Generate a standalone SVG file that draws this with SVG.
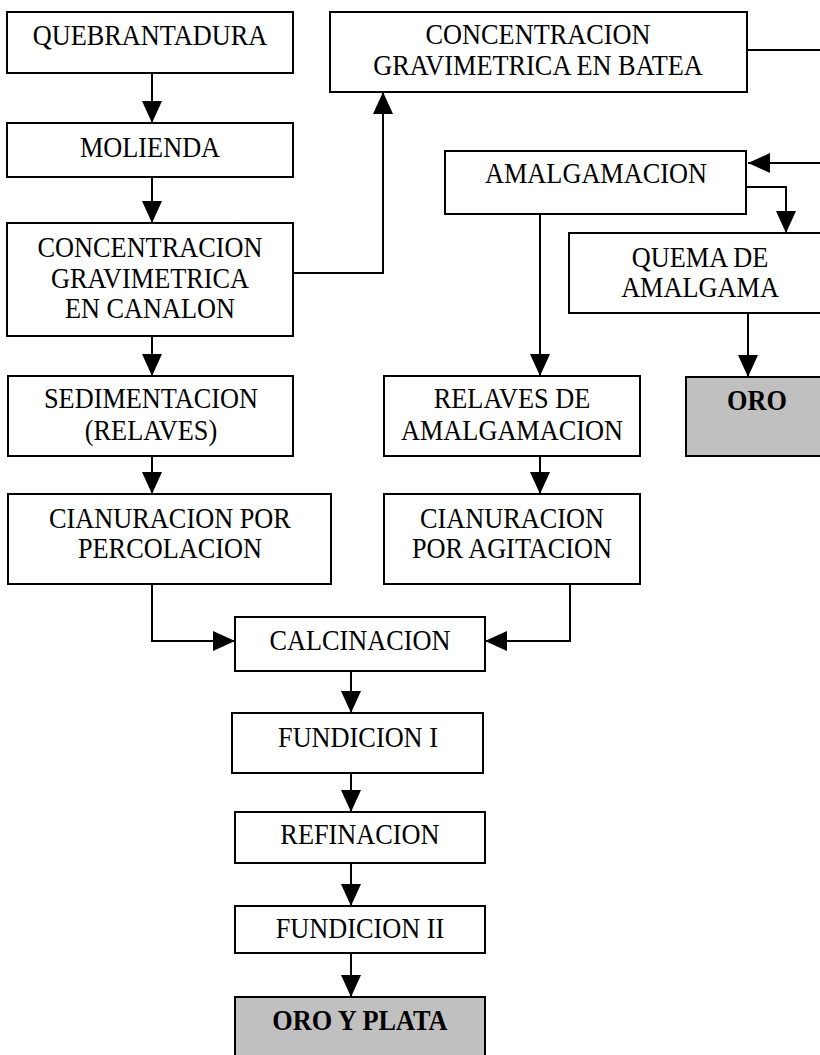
<svg xmlns="http://www.w3.org/2000/svg" width="820" height="1055" viewBox="0 0 820 1055">
<style>
.box{fill:#fff;stroke:#000;stroke-width:2}
.gray{fill:#c0c0c0;stroke:#000;stroke-width:2}
.t{font-family:"Liberation Serif","Times New Roman",serif;font-size:29px;text-anchor:middle;fill:#000}
.b{font-weight:bold}
.c{fill:none;stroke:#000;stroke-width:2}
</style>
<defs>
<marker id="ah" markerUnits="userSpaceOnUse" markerWidth="22" markerHeight="20" refX="22" refY="10" orient="auto">
<path d="M0,0 L22,10 L0,20 Z" fill="#000"/>
</marker>
</defs>
<rect width="820" height="1055" fill="#fff"/>
<g id="connectors">
<path class="c" d="M152,73 V123" marker-end="url(#ah)"/>
<path class="c" d="M152,177 V223" marker-end="url(#ah)"/>
<path class="c" d="M152,336 V376" marker-end="url(#ah)"/>
<path class="c" d="M152,456 V494" marker-end="url(#ah)"/>
<path class="c" d="M293,273 H383 V92" marker-end="url(#ah)"/>
<path class="c" d="M747,50 H830"/>
<path class="c" d="M830,163 H748" marker-end="url(#ah)"/>
<path class="c" d="M746,187 H786 V233" marker-end="url(#ah)"/>
<path class="c" d="M540,214 V376" marker-end="url(#ah)"/>
<path class="c" d="M748,313 V377" marker-end="url(#ah)"/>
<path class="c" d="M540,456 V494" marker-end="url(#ah)"/>
<path class="c" d="M152,584 V641 H235" marker-end="url(#ah)"/>
<path class="c" d="M570,584 V641 H485" marker-end="url(#ah)"/>
<path class="c" d="M351,671 V713" marker-end="url(#ah)"/>
<path class="c" d="M351,773 V812" marker-end="url(#ah)"/>
<path class="c" d="M351,863 V906" marker-end="url(#ah)"/>
<path class="c" d="M351,953 V997" marker-end="url(#ah)"/>
</g>
<g id="quebrantadura"><rect class="box" x="7" y="12" width="286" height="61"/><text class="t" transform="scale(0.907,1)" x="165.4" y="45">QUEBRANTADURA</text></g>
<g id="molienda"><rect class="box" x="7" y="123" width="286" height="54"/><text class="t" transform="scale(0.907,1)" x="165.4" y="157">MOLIENDA</text></g>
<g id="canalon"><rect class="box" x="7" y="223" width="286" height="113"/><g class="t" transform="scale(0.907,1)"><text x="165.4" y="257">CONCENTRACION</text><text x="165.4" y="288">GRAVIMETRICA</text><text x="165.4" y="318">EN CANALON</text></g></g>
<g id="batea"><rect class="box" x="330" y="12" width="417" height="80"/><g class="t" transform="scale(0.907,1)"><text x="593.2" y="44">CONCENTRACION</text><text x="593.2" y="75">GRAVIMETRICA EN BATEA</text></g></g>
<g id="amalgamacion"><rect class="box" x="445" y="151" width="301" height="63"/><text class="t" transform="scale(0.907,1)" x="657.1" y="183">AMALGAMACION</text></g>
<g id="quema"><rect class="box" x="569" y="233" width="262" height="80"/><g class="t" transform="scale(0.907,1)"><text x="771.8" y="267">QUEMA DE</text><text x="771.8" y="297">AMALGAMA</text></g></g>
<g id="oro"><rect class="gray" x="686" y="377" width="142" height="79"/><text class="t b" transform="scale(0.907,1)" x="834.6" y="410">ORO</text></g>
<g id="sedimentacion"><rect class="box" x="8" y="376" width="285" height="80"/><g class="t" transform="scale(0.907,1)"><text x="166.5" y="408">SEDIMENTACION</text><text x="166.5" y="440">(RELAVES)</text></g></g>
<g id="relaves"><rect class="box" x="384" y="376" width="256" height="80"/><g class="t" transform="scale(0.907,1)"><text x="564.5" y="408">RELAVES DE</text><text x="564.5" y="440">AMALGAMACION</text></g></g>
<g id="percolacion"><rect class="box" x="8" y="494" width="323" height="90"/><g class="t" transform="scale(0.907,1)"><text x="187.4" y="528">CIANURACION POR</text><text x="187.4" y="558">PERCOLACION</text></g></g>
<g id="agitacion"><rect class="box" x="384" y="494" width="256" height="90"/><g class="t" transform="scale(0.907,1)"><text x="564.5" y="528">CIANURACION</text><text x="564.5" y="558">POR AGITACION</text></g></g>
<g id="calcinacion"><rect class="box" x="235" y="617" width="250" height="54"/><text class="t" transform="scale(0.907,1)" x="396.9" y="650">CALCINACION</text></g>
<g id="fundicion1"><rect class="box" x="232" y="713" width="251" height="60"/><text class="t" transform="scale(0.907,1)" x="394.7" y="747">FUNDICION I</text></g>
<g id="refinacion"><rect class="box" x="235" y="812" width="250" height="51"/><text class="t" transform="scale(0.907,1)" x="396.9" y="844">REFINACION</text></g>
<g id="fundicion2"><rect class="box" x="235" y="906" width="250" height="47"/><text class="t" transform="scale(0.907,1)" x="396.9" y="938">FUNDICION II</text></g>
<g id="oroplata"><rect class="gray" x="235" y="997" width="250" height="70"/><text class="t b" transform="scale(0.907,1)" x="396.9" y="1030">ORO Y PLATA</text></g>
</svg>
